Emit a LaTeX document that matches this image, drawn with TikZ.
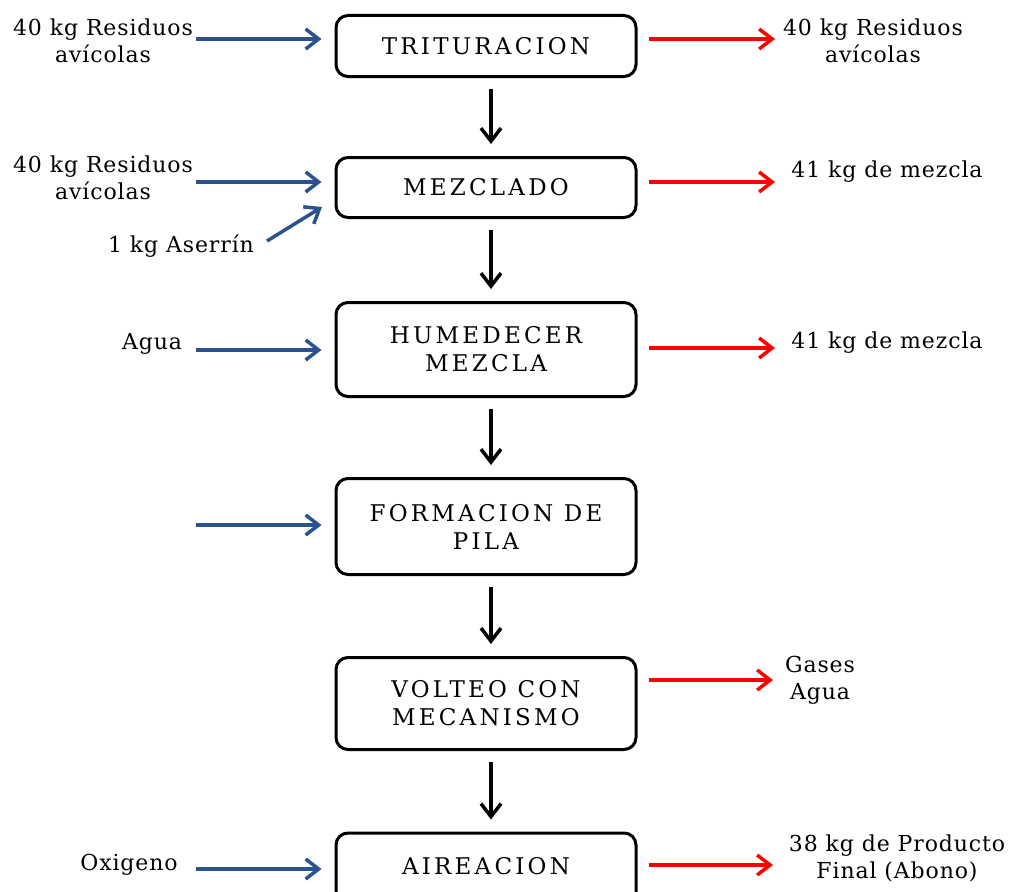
\documentclass[tikz,border=0pt]{standalone}
\usepackage{fontspec}
\setmainfont{DejaVu Serif}[LetterSpace=4]
\newfontfamily\boxfont{DejaVu Serif}[LetterSpace=14]
\usetikzlibrary{arrows.meta}
\definecolor{inblue}{RGB}{41,82,143}
\definecolor{outred}{RGB}{255,0,0}
\tikzset{
  procbox/.style={draw=black, line width=3pt, rounded corners=12pt, minimum width=300pt,
    align=center, font=\boxfont\fontsize{23}{28}\selectfont, inner sep=0pt},
  lbl/.style={align=center, font=\fontsize{22}{27}\selectfont, inner sep=0pt},
  tip/.style={-{Straight Barb[length=13pt,width=20pt]}},
  inarrow/.style={tip, draw=inblue, line width=3.5pt},
  outarrow/.style={tip, draw=outred, line width=3.5pt},
  downarrow/.style={tip, draw=black, line width=3.5pt},
}
\begin{document}
\begin{tikzpicture}[x=1pt,y=-1pt]
\useasboundingbox (0,0) rectangle (1014,891);
% process boxes
\node[procbox, minimum height=61pt] (t) at (486,46) {TRITURACION};
\node[procbox, minimum height=60pt] (m) at (486,187.5) {MEZCLADO};
\node[procbox, minimum height=94pt] (h) at (486,349.5) {HUMEDECER\\MEZCLA};
\node[procbox, minimum height=96pt] (f) at (486,526.5) {FORMACION DE\\PILA};
\node[procbox, minimum height=92pt] (v) at (486,703.5) {VOLTEO CON\\MECANISMO};
\node[procbox, minimum height=76pt] (a) at (486,871) {\raisebox{10pt}{AIREACION}};
% down arrows
\draw[downarrow] ([xshift=5pt,yshift=-11pt]t.south) -- ([xshift=5pt,yshift=12pt]m.north);
\draw[downarrow] ([xshift=5pt,yshift=-11pt]m.south) -- ([xshift=5pt,yshift=12pt]h.north);
\draw[downarrow] ([xshift=5pt,yshift=-11pt]h.south) -- ([xshift=5pt,yshift=12pt]f.north);
\draw[downarrow] ([xshift=5pt,yshift=-11pt]f.south) -- ([xshift=5pt,yshift=12pt]v.north);
\draw[downarrow] ([xshift=5pt,yshift=-11pt]v.south) -- ([xshift=5pt,yshift=12pt]a.north);
% left labels
\node[lbl] (l1) at (103,41) {40 kg Residuos\\avícolas};
\node[lbl] (l2) at (103,178) {40 kg Residuos\\avícolas};
\node[lbl] (l3) at (181,246) {1 kg Aserrín};
\node[lbl] (l4) at (152,344) {Agua};
\node[lbl] (l5) at (129,865) {Oxigeno};
% right labels
\node[lbl] (r1) at (873,41) {40 kg Residuos\\avícolas};
\node[lbl] (r2) at (887,172) {41 kg de mezcla};
\node[lbl] (r3) at (887,343) {41 kg de mezcla};
\node[lbl] (r4) at (820,680) {Gases\\Agua};
\node[lbl] (r5) at (897,858) {38 kg de Producto\\Final (Abono)};
% input arrow start points
\coordinate (i1) at (196,39);
\coordinate (i2) at (196,182);
\coordinate (i3s) at (267,241);
\coordinate (i3e) at (322,207);
\coordinate (i4) at (196,350);
\coordinate (i5) at (196,525);
\coordinate (i6) at (196,869);
\draw[inarrow, shorten >=13pt] (i1) -- (i1 -| t.west);
\draw[inarrow, shorten >=13pt] (i2) -- (i2 -| m.west);
\draw[inarrow] (i3s) -- (i3e);
\draw[inarrow, shorten >=13pt] (i4) -- (i4 -| h.west);
\draw[inarrow, shorten >=13pt] (i5) -- (i5 -| f.west);
\draw[inarrow, shorten >=13pt] (i6) -- (i6 -| a.west);
% output arrow end points
\coordinate (o1) at (775,39);
\coordinate (o2) at (775,182);
\coordinate (o3) at (775,348);
\coordinate (o4) at (773,680);
\coordinate (o5) at (773,865);
\draw[outarrow, shorten <=11pt] (o1 -| t.east) -- (o1);
\draw[outarrow, shorten <=11pt] (o2 -| m.east) -- (o2);
\draw[outarrow, shorten <=11pt] (o3 -| h.east) -- (o3);
\draw[outarrow, shorten <=11pt] (o4 -| v.east) -- (o4);
\draw[outarrow, shorten <=11pt] (o5 -| a.east) -- (o5);
\end{tikzpicture}
\end{document}
